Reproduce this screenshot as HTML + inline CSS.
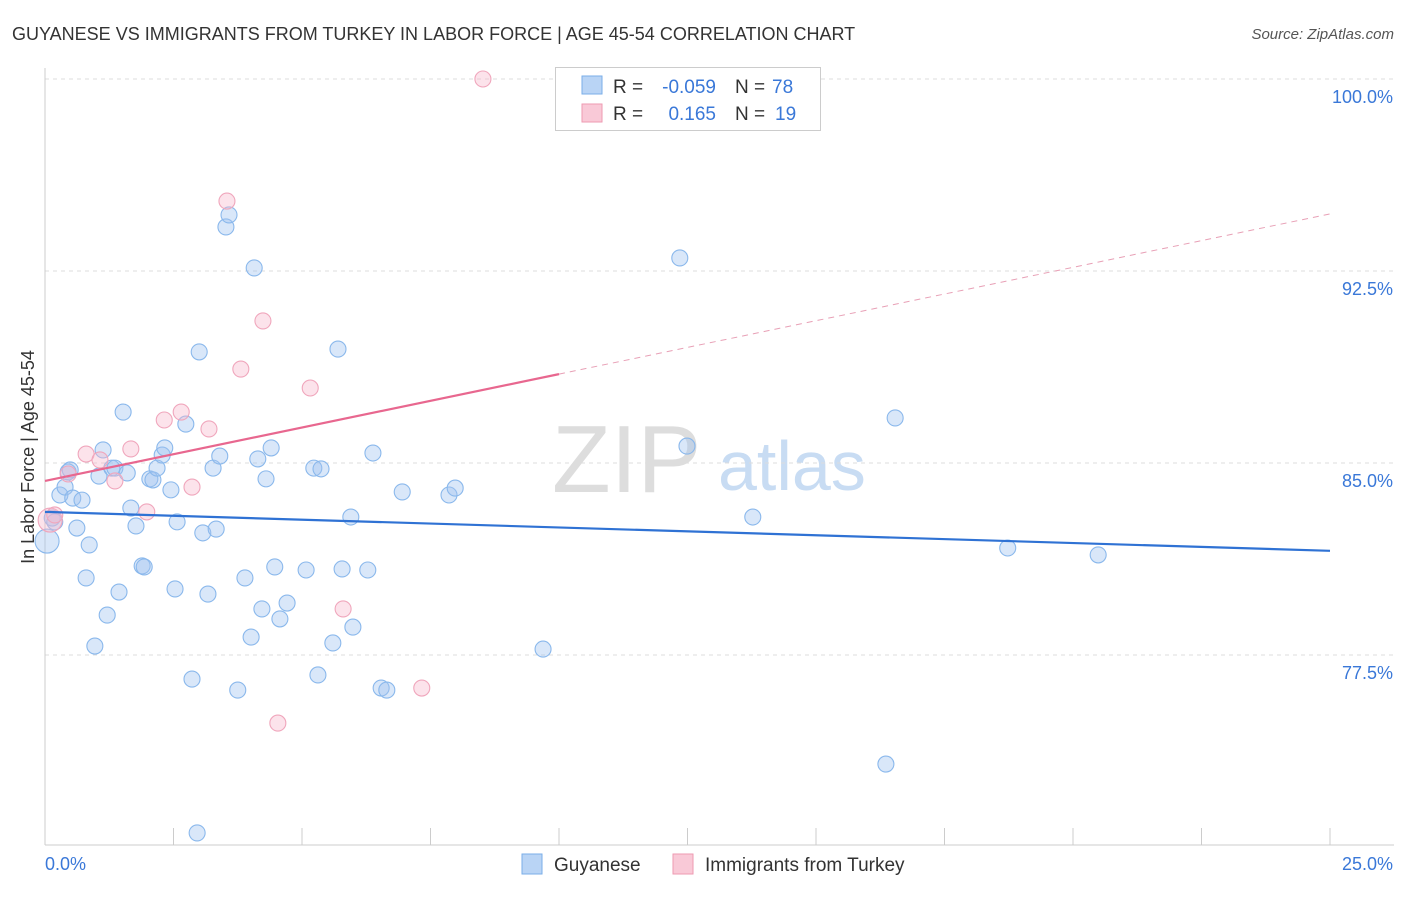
<!DOCTYPE html>
<html><head><meta charset="utf-8"><style>
body{margin:0;background:#fff;font-family:"Liberation Sans",sans-serif}
svg text{font-family:"Liberation Sans",sans-serif}
</style></head><body>
<svg id="chart" width="1406" height="892" viewBox="0 0 1406 892" xmlns="http://www.w3.org/2000/svg">
<text x="12" y="40" font-size="18" fill="#333">GUYANESE VS IMMIGRANTS FROM TURKEY IN LABOR FORCE | AGE 45-54 CORRELATION CHART</text>
<text x="1394" y="39" font-size="15" fill="#555" text-anchor="end" font-style="italic">Source: ZipAtlas.com</text>
<text x="552" y="492" font-size="96" fill="#ddd" font-family="Liberation Serif">ZIP</text>
<text x="718" y="490" font-size="70" fill="#c8dcf3">atlas</text>
<text transform="translate(34,457) rotate(-90)" font-size="18" fill="#333" text-anchor="middle">In Labor Force | Age 45-54</text>
<g id="grid"></g><g id="marks"></g>
<g>
<rect x="555.5" y="67.5" width="265" height="63" fill="#fff" stroke="#ccc"/>
<rect x="582" y="76" width="20" height="18" fill="#b9d4f5" stroke="#7aaee8"/>
<rect x="582" y="104" width="20" height="18" fill="#f9c9d7" stroke="#ee9ab2"/>
<text x="613" y="93" font-size="19" fill="#333">R =</text>
<text x="716" y="93" font-size="19" fill="#3a78d8" text-anchor="end">-0.059</text>
<text x="735" y="93" font-size="19" fill="#333">N =</text>
<text x="772" y="93" font-size="19" fill="#3a78d8">78</text>
<text x="613" y="120" font-size="19" fill="#333">R =</text>
<text x="716" y="120" font-size="19" fill="#3a78d8" text-anchor="end">0.165</text>
<text x="735" y="120" font-size="19" fill="#333">N =</text>
<text x="775" y="120" font-size="19" fill="#3a78d8">19</text>
</g>
<g>
<rect x="522" y="854" width="20" height="20" fill="#b9d4f5" stroke="#7aaee8"/>
<text x="554" y="871" font-size="19" fill="#333">Guyanese</text>
<rect x="673" y="854" width="20" height="20" fill="#f9c9d7" stroke="#ee9ab2"/>
<text x="705" y="871" font-size="19" fill="#333">Immigrants from Turkey</text>
</g>
</svg>
<script>
const yTicks=[100,92.5,85,77.5];
const yTickLabels=["100.0%","92.5%","85.0%","77.5%"];
const xTickLabels=["0.0%","25.0%"];
const blueX=[0.04,0.14,0.19,0.29,0.39,0.45,0.49,0.54,0.62,0.72,0.80,0.86,0.97,1.05,1.13,1.21,1.30,1.36,1.44,1.52,1.60,1.67,1.77,1.89,1.93,2.04,2.10,2.18,2.28,2.33,2.45,2.53,2.57,2.74,2.86,2.96,3.00,3.07,3.17,3.27,3.33,3.40,3.52,3.58,3.75,3.89,4.01,4.07,4.14,4.22,4.30,4.40,4.47,4.57,4.71,5.08,5.23,5.31,5.37,5.60,5.70,5.78,5.95,5.99,6.28,6.38,6.54,6.65,6.95,7.86,7.98,9.69,12.35,12.49,13.77,16.36,16.54,18.73,20.49];
const blueY=[81.95,82.85,82.70,83.75,84.06,84.65,84.73,83.63,82.46,83.55,80.51,81.80,77.85,84.49,85.51,79.06,84.80,84.80,79.96,86.99,84.61,83.24,82.54,80.98,80.94,84.38,84.34,84.80,85.31,85.59,83.95,80.08,82.70,86.52,76.56,70.55,89.34,82.27,79.88,84.80,82.42,85.27,94.22,94.69,76.13,80.51,78.20,92.62,85.16,79.30,84.38,85.59,80.94,78.91,79.53,80.82,84.80,76.72,84.77,77.97,89.45,80.86,82.89,78.59,80.82,85.39,76.21,76.13,83.87,83.75,84.02,77.73,93.01,85.66,82.89,73.24,86.76,81.68,81.41];
const pinkX=[0.10,0.19,0.45,0.80,1.07,1.36,1.67,1.98,2.32,2.65,2.86,3.19,3.54,3.81,4.24,5.16,5.80,4.53,7.33,8.52];
const pinkY=[82.77,82.97,84.57,85.35,85.12,84.30,85.55,83.09,86.68,86.99,84.06,86.33,95.23,88.67,90.55,87.93,79.30,74.84,76.21,100.0];
const blueTrend=[83.09,81.57];
const pinkTrend=[84.30,94.73];
const pinkSolidEnd=10;
const NS="http://www.w3.org/2000/svg";
const xs=v=>45+v/25*1285;
const ys=v=>79+(100-v)/7.5*192;
const grid=document.getElementById('grid'),marks=document.getElementById('marks');
function mk(tag,attrs,parent){const e=document.createElementNS(NS,tag);for(const k in attrs)e.setAttribute(k,attrs[k]);parent.appendChild(e);return e;}
yTicks.forEach((t,i)=>{
 const l=mk('line',{x1:45,x2:1394,y1:ys(t),y2:ys(t),stroke:'#ddd','stroke-dasharray':'4,4'},grid);
 
 
 const tx=mk('text',{x:1393,y:ys(t)+24,'font-size':18,fill:'#3a78d8','text-anchor':'end'},grid);
 tx.textContent=yTickLabels[i];
 
 
});
const ax=mk('line',{x1:45,x2:45,y1:68,y2:845,stroke:'#ccc'},grid);


const bx=mk('line',{x1:45,x2:1394,y1:845,y2:845,stroke:'#ccc'},grid);


for(let i=0;i<=10;i++){const t=mk('line',{x1:xs(i*2.5),x2:xs(i*2.5),y1:828,y2:845,stroke:'#ccc'},grid);
 
 }
[[0,45,'start'],[25,1393,'end']].forEach((d,i)=>{const t=mk('text',{x:d[1],y:870,'font-size':18,fill:'#3a78d8','text-anchor':d[2]},grid);t.textContent=xTickLabels[i];
 
 });
function dots(X,Y,fill,stroke,name){X.forEach((x,i)=>{const c=mk('circle',{cx:xs(x),cy:ys(Y[i]),r:i===0?12:8,fill:fill,stroke:stroke,'stroke-width':1.1},marks);
 
 });}
dots(blueX,blueY,'rgba(160,196,240,0.4)','#8ab8ec','guyanese-point');
dots(pinkX,pinkY,'rgba(247,184,204,0.4)','#f0a6bc','turkey-point');
const bl=mk('line',{x1:xs(0),y1:ys(blueTrend[0]),x2:xs(25),y2:ys(blueTrend[1]),stroke:'#2f72d4','stroke-width':2.2},marks);


const pm=pinkTrend[0]+(pinkTrend[1]-pinkTrend[0])*pinkSolidEnd/25;
const pl=mk('line',{x1:xs(0),y1:ys(pinkTrend[0]),x2:xs(pinkSolidEnd),y2:ys(pm),stroke:'#e8678f','stroke-width':2.2},marks);


const pd=mk('line',{x1:xs(pinkSolidEnd),y1:ys(pm),x2:xs(25),y2:ys(pinkTrend[1]),stroke:'#e8a0b6','stroke-width':1,'stroke-dasharray':'6,5'},marks);


</script>
</body></html>
